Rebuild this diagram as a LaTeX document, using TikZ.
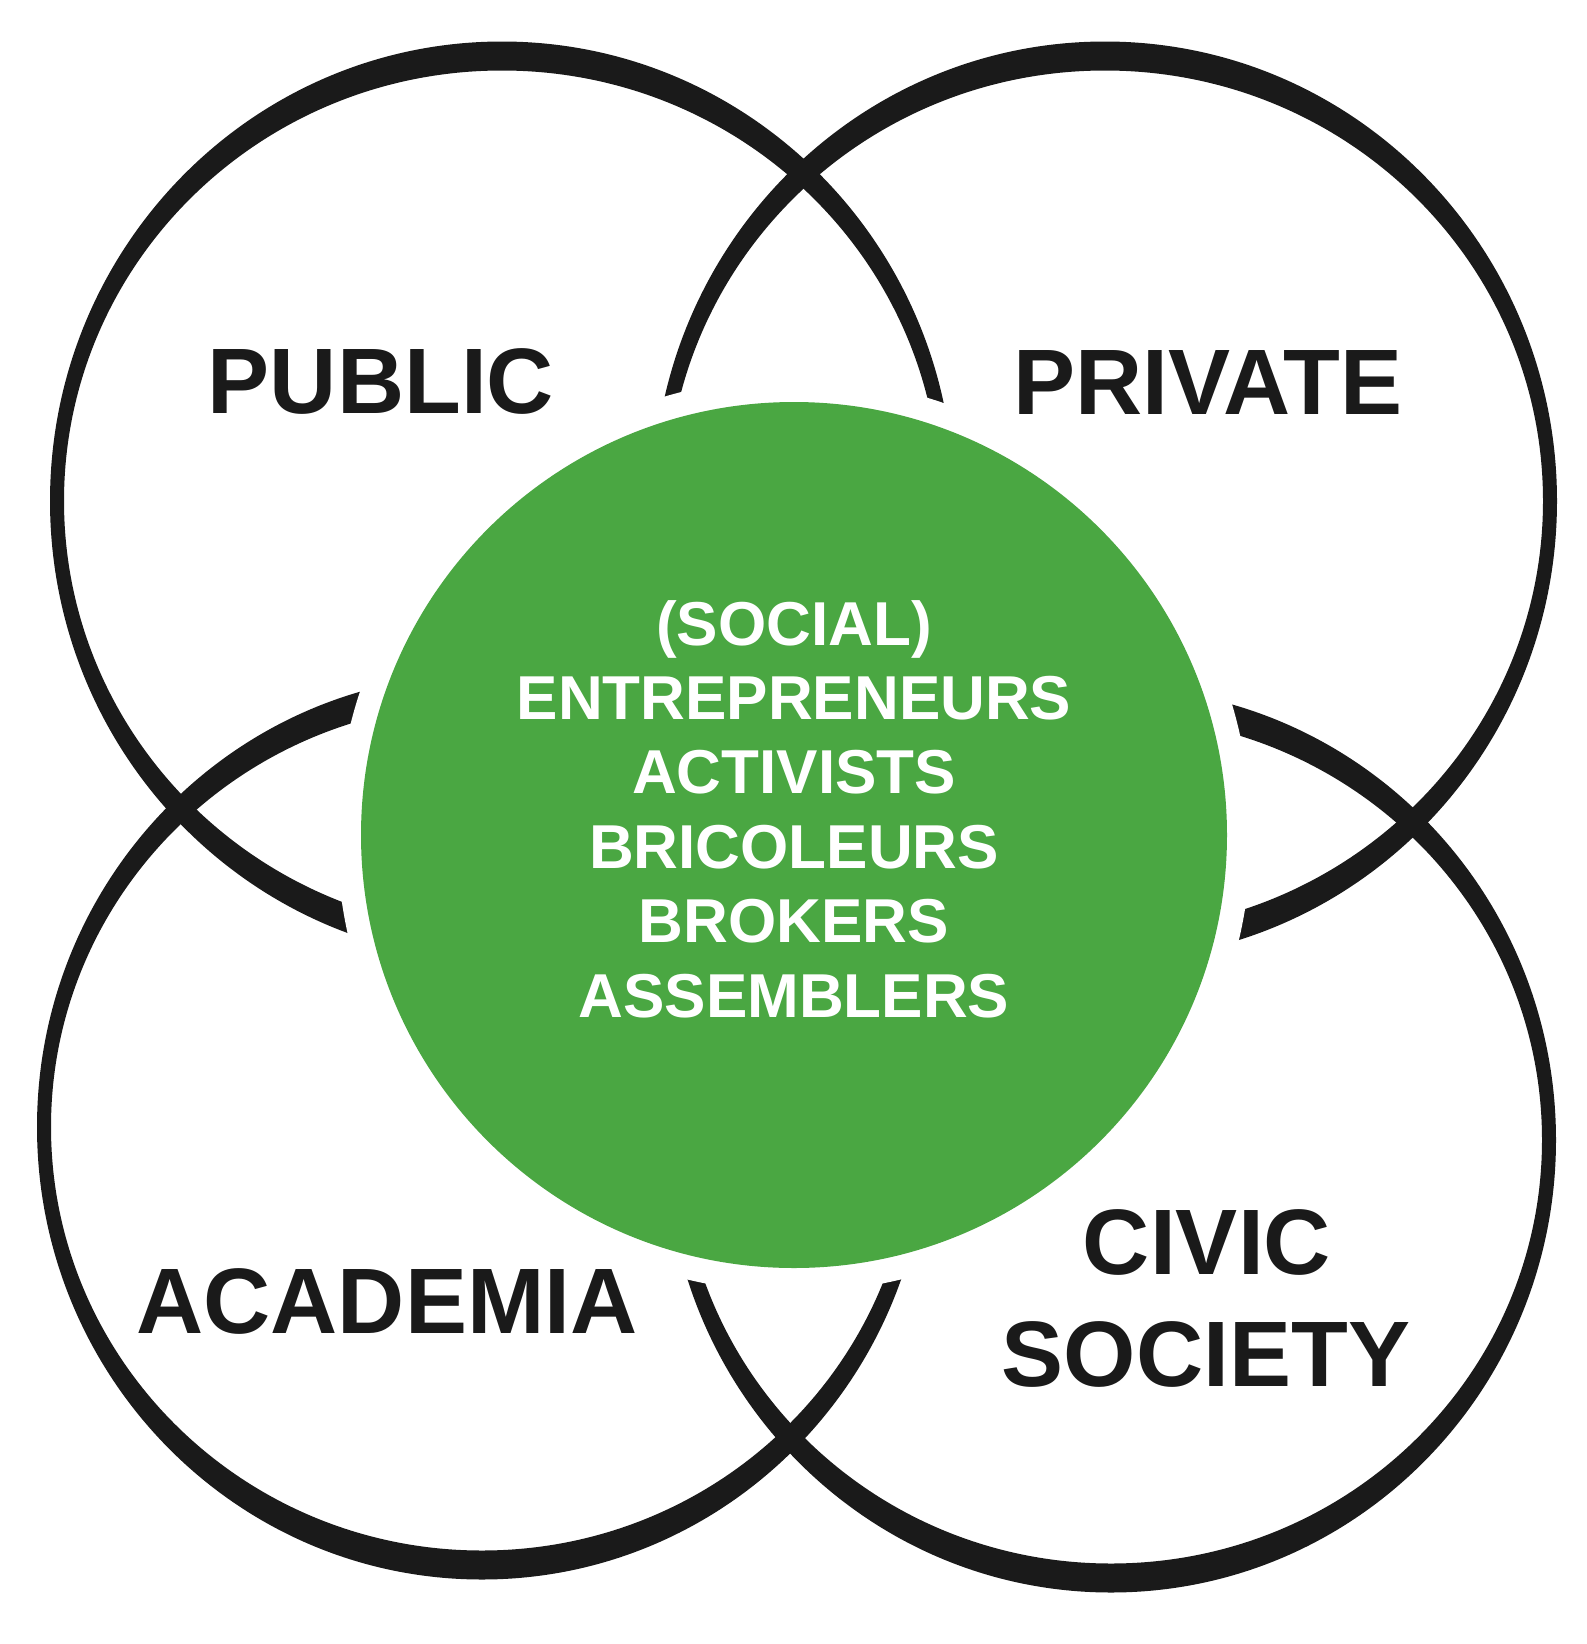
\documentclass[tikz,border=0pt]{standalone}
\usepackage{fontspec}
\setmainfont{Liberation Sans}
\definecolor{vennblack}{RGB}{26,26,26}
\definecolor{venngreen}{RGB}{74,167,66}

\begin{document}
\begin{tikzpicture}[x = 1pt, y = -1pt]
\tikzstyle{SectorStyle}=[
font = \bfseries\fontsize{93}{110}\selectfont,
text = vennblack,
inner sep = 0pt,
anchor = base]
\tikzstyle{RoleStyle}=[
font = \bfseries\fontsize{62}{75}\selectfont,
text = white,
inner sep = 0pt,
anchor = base]
\useasboundingbox (0,0) rectangle (1587,1644);
% the four sector rings
\foreach \cx/\cy/\rad in {502/501/445, 1105/501/445, 482/1127/438, 1111/1140/438}
  \fill[vennblack, even odd rule] (\cx,\cy) ellipse [x radius = \rad+7, y radius = \rad+14.5]
    (\cx,\cy) ellipse [x radius = \rad-7, y radius = \rad-14.5];
% green core with its white margin
\coordinate (core) at (794, 835);
\fill[white] (core) circle [radius = 457];
\fill[venngreen] (core) circle [radius = 433];
\node[SectorStyle] (public) at (381, 413) {PUBLIC};
\node[SectorStyle] (private) at (1208, 414) {PRIVATE};
\node[SectorStyle] (academia) at (387, 1333) {ACADEMIA};
\node[SectorStyle] (civic) at (1207, 1274) {CIVIC};
\node[SectorStyle] (society) at (1206, 1386) {SOCIETY};
\foreach \role [count = \i] in {{(SOCIAL)}, ENTREPRENEURS, ACTIVISTS, BRICOLEURS, BROKERS, ASSEMBLERS}
  \node[RoleStyle] (role\i) at (794, {645 + 74.4*(\i-1)}) {\role};
\end{tikzpicture}
\end{document}
